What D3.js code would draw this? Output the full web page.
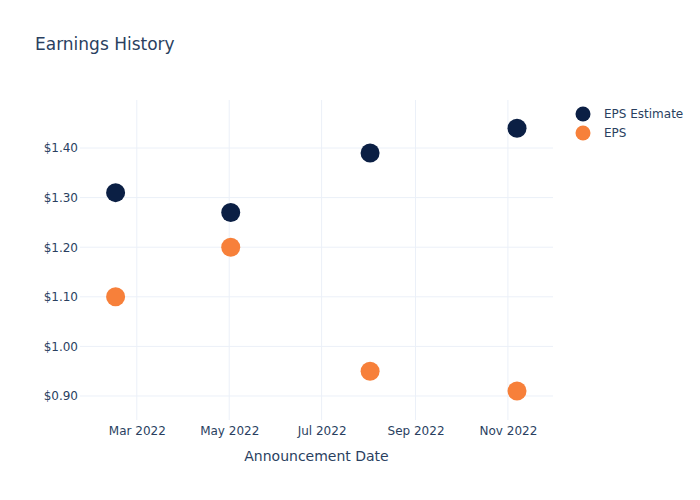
<!DOCTYPE html>
<html>
<head>
<meta charset="utf-8">
<script src="https://cdn.jsdelivr.net/npm/d3@7"></script>
<style>
  body { margin: 0; background: #fff; }
  svg { font-family: "DejaVu Sans", Verdana, sans-serif; }
</style>
</head>
<body>
<svg id="chart" width="700" height="500"></svg>
<script>
const dates = ["2022-02-15", "2022-05-02", "2022-08-02", "2022-11-07"];
const epsEstimate = [1.31, 1.27, 1.39, 1.44];
const eps = [1.10, 1.20, 0.95, 0.91];
const yTicks = [0.9, 1.0, 1.1, 1.2, 1.3, 1.4];
const xTicks = ["2022-03-01", "2022-05-01", "2022-07-01", "2022-09-01", "2022-11-01"];
const seriesNames = ["EPS Estimate", "EPS"];
const colors = ["#0b1f44", "#f7803a"];

const parse = d3.utcParse("%Y-%m-%d");
const svg = d3.select("#chart");
const m = {l: 80, r: 147, t: 100, b: 80};
const W = 700, H = 500;
const x = d3.scaleUtc()
  .domain([new Date(Date.UTC(2022, 0, 22, 12)), new Date(Date.UTC(2022, 10, 30, 18))])
  .range([m.l, W - m.r]);
const y = d3.scaleLinear().domain([0.8516, 1.4968]).range([H - m.b, m.t]);

const textColor = "#2a3f5f";
const gridColor = "#ebf0f8";

// grid
svg.append("g").selectAll("line").data(yTicks).join("line")
  .attr("x1", m.l).attr("x2", W - m.r)
  .attr("y1", d => y(d)).attr("y2", d => y(d))
  .attr("stroke", gridColor).attr("stroke-width", 1);
svg.append("g").selectAll("line").data(xTicks).join("line")
  .attr("y1", m.t).attr("y2", H - m.b)
  .attr("x1", d => x(parse(d))).attr("x2", d => x(parse(d)))
  .attr("stroke", gridColor).attr("stroke-width", 1);

// y axis
const yAxis = d3.axisLeft(y).tickValues(yTicks).tickFormat(d => "$" + d3.format(".2f")(d)).tickSize(0).tickPadding(2);
const gy = svg.append("g").attr("transform", `translate(${m.l},0)`).call(yAxis);
gy.select(".domain").remove();
gy.selectAll("text").attr("fill", textColor).style("font-size", "12px").style("font-family", "DejaVu Sans");

// x axis
const xAxis = d3.axisBottom(x).tickValues(xTicks.map(parse)).tickFormat(d3.utcFormat("%b %Y")).tickSize(0).tickPadding(6);
const gx = svg.append("g").attr("transform", `translate(0,${H - m.b})`).call(xAxis);
gx.select(".domain").remove();
gx.selectAll("text").attr("fill", textColor).style("font-size", "12px").style("font-family", "DejaVu Sans");

// axis title
svg.append("text").attr("x", (m.l + W - m.r) / 2).attr("y", 461)
  .attr("text-anchor", "middle").attr("fill", textColor).style("font-size", "14px")
  .text("Announcement Date");

// title
svg.append("text").attr("x", 35).attr("y", 50)
  .attr("fill", textColor).style("font-size", "17px").text("Earnings History");

// points
[epsEstimate, eps].forEach((vals, i) => {
  svg.append("g").selectAll("circle").data(vals).join("circle")
    .attr("cx", (d, j) => x(parse(dates[j])))
    .attr("cy", d => y(d))
    .attr("r", 9.5)
    .attr("fill", colors[i]);
});

// legend
const lg = svg.append("g");
seriesNames.forEach((name, i) => {
  const yy = 114 + i * 19;
  lg.append("circle").attr("cx", 583).attr("cy", yy).attr("r", 7.5).attr("fill", colors[i]);
  lg.append("text").attr("x", 604).attr("y", yy + 4).attr("fill", textColor)
    .style("font-size", "12px").text(name);
});
</script>
</body>
</html>
